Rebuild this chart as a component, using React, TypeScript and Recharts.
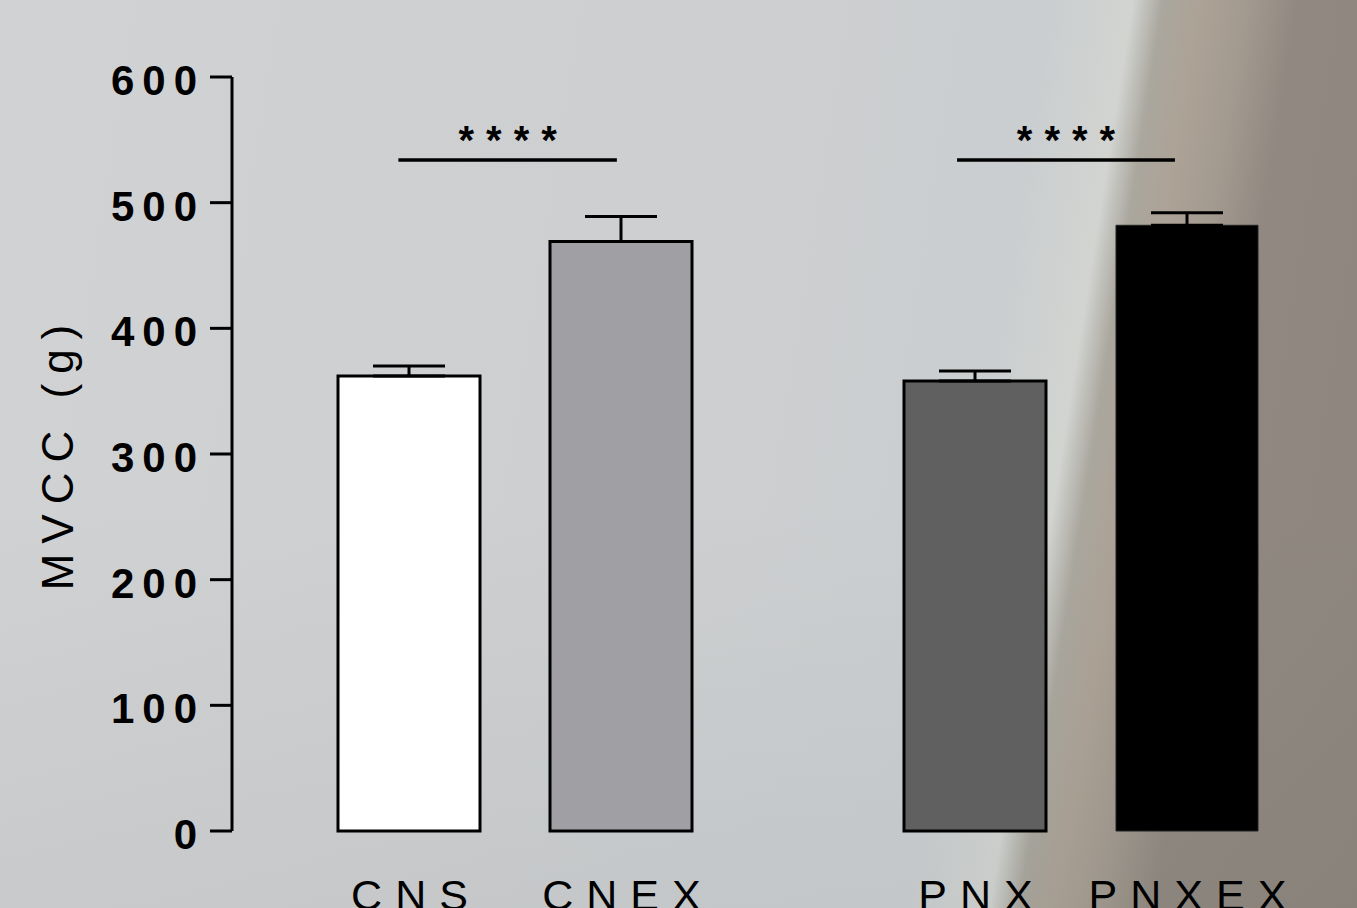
import React from 'react';
import { BarChart, Bar, XAxis, YAxis, ErrorBar, Cell, LabelList, ReferenceLine } from 'recharts';

// ---- data ----
const groups = ['CN', 'PNX'];
const groupIndex = [0.5, 1.5];
const controlLabels = ['CNS', 'PNX'];
const exerciseLabels = ['CNEX', 'PNXEX'];
const controlMeans = [362, 358];
const controlSem = [8, 8];
const exerciseMeans = [469, 482];
const exerciseSem = [20, 10];
const yTicks = [0, 100, 200, 300, 400, 500, 600];
const yLabel = 'MVCC (g)';

// significance brackets (x in group units on a hidden 0..2 axis, y in grams)
const sigStart = [0.294, 1.281];
const sigEnd = [0.68, 1.666];
const sigLevel = [534, 534];
const sigText = ['****', '****'];

const controlFills = ['#ffffff', '#606060'];
const exerciseFills = ['#a09fa4', '#000000'];
const exerciseStrokes = ['#000000', '#222222'];
const exerciseStrokeWidths = [3, 1];

const data = groups.map((g, i) => ({
  group: g,
  pos: groupIndex[i],
  control: controlMeans[i],
  controlErr: [0, controlSem[i]],
  controlLabel: controlLabels[i],
  exercise: exerciseMeans[i],
  exerciseErr: [0, exerciseSem[i]],
  exerciseLabel: exerciseLabels[i],
}));

const FONT = '"Liberation Sans", Arial, Helvetica, sans-serif';

const YTick = (props: any) => {
  const { x, y, payload } = props;
  return (
    <text
      x={x}
      y={y + 18}
      textAnchor="end"
      fontFamily={FONT}
      fontWeight="bold"
      fontSize={42}
      letterSpacing={8}
      fill="#000"
    >
      {payload.value}
    </text>
  );
};

const renderBarLabel = (props: any) => {
  const vb = props.viewBox || {};
  const bx = Number(props.x ?? vb.x);
  const by = Number(props.y ?? vb.y);
  const bw = Number(props.width ?? vb.width);
  const bh = Number(props.height ?? vb.height);
  const cx = bx + bw / 2;
  const bottom = by + bh;
  return (
    <text
      x={cx + 7}
      y={bottom + 79}
      textAnchor="middle"
      fontFamily={FONT}
      fontSize={43}
      letterSpacing={13}
      fill="#000"
    >
      {props.value}
    </text>
  );
};

const makeStarLabel = (txt: string) => (props: any) => {
  const vb = props.viewBox || {};
  const cx = Number(vb.x) + Number(vb.width || 0) / 2;
  const y = Number(vb.y);
  return (
    <text
      x={cx + 6}
      y={y - 6}
      textAnchor="middle"
      fontFamily={FONT}
      fontWeight="bold"
      fontSize={40}
      letterSpacing={12}
      fill="#000"
    >
      {txt}
    </text>
  );
};

const renderYLabel = (props: any) => {
  const vb = props.viewBox || {};
  const x = Number(vb.x) + 73;
  const y = Number(vb.y) + Number(vb.height) / 2 - 1.5;
  return (
    <text
      transform={`translate(${x},${y}) rotate(-90)`}
      x={0}
      y={0}
      textAnchor="middle"
      fontFamily={FONT}
      fontSize={44}
      letterSpacing={10}
      fill="#000"
    >
      {yLabel}
    </text>
  );
};

export default function App() {
  return (
    <div
      style={{
        position: 'absolute',
        left: 0,
        top: 0,
        width: 1357,
        height: 908,
        overflow: 'hidden',
        background:
          'linear-gradient(to bottom, rgba(0,0,0,0) 55%, rgba(40,60,60,0.05) 100%), linear-gradient(99deg, #d1d2d4 0%, #cecfd1 40%, #cbced0 70%, #d2d4d1 75.5%, #aaa79e 77.5%, #ada296 80%, #a39a90 83%, #918981 86.5%, #8e867e 100%)',
      }}
    >
      <BarChart
        width={1372}
        height={908}
        data={data}
        margin={{ top: 77, right: 8, bottom: 77, left: 0 }}
        barGap={70}
        barSize={142}
      >
        <XAxis
          dataKey="group"
          tick={false}
          tickLine={false}
          height={0}
          axisLine={{ stroke: '#000', strokeWidth: 3 }}
        />
        <XAxis xAxisId="ref" dataKey="pos" type="number" domain={[0, 2]} hide allowDataOverflow />
        <YAxis
          type="number"
          domain={[0, 600]}
          ticks={yTicks}
          interval={0}
          width={232}
          tickSize={22}
          tickMargin={5}
          tick={<YTick />}
          tickLine={{ stroke: '#000', strokeWidth: 3 }}
          axisLine={{ stroke: '#000', strokeWidth: 3 }}
          label={renderYLabel}
        />
        <Bar dataKey="control" isAnimationActive={false} stroke="#000" strokeWidth={3}>
          {data.map((d, i) => (
            <Cell key={d.group} fill={controlFills[i]} stroke="#000" strokeWidth={3} />
          ))}
          <ErrorBar dataKey="controlErr" width={36} stroke="#000" strokeWidth={3} direction="y" isAnimationActive={false} />
          <LabelList dataKey="controlLabel" content={renderBarLabel} />
        </Bar>
        <Bar dataKey="exercise" isAnimationActive={false} stroke="#000" strokeWidth={3}>
          {data.map((d, i) => (
            <Cell key={d.group} fill={exerciseFills[i]} stroke={exerciseStrokes[i]} strokeWidth={exerciseStrokeWidths[i]} />
          ))}
          <ErrorBar dataKey="exerciseErr" width={36} stroke="#000" strokeWidth={3} direction="y" isAnimationActive={false} />
          <LabelList dataKey="exerciseLabel" content={renderBarLabel} />
        </Bar>
        {sigStart.map((s, i) => (
          <ReferenceLine
            key={`sig${i}`}
            xAxisId="ref"
            segment={[
              { x: s, y: sigLevel[i] },
              { x: sigEnd[i], y: sigLevel[i] },
            ]}
            stroke="#000"
            strokeWidth={3.5}
            label={makeStarLabel(sigText[i])}
          />
        ))}
      </BarChart>
    </div>
  );
}
